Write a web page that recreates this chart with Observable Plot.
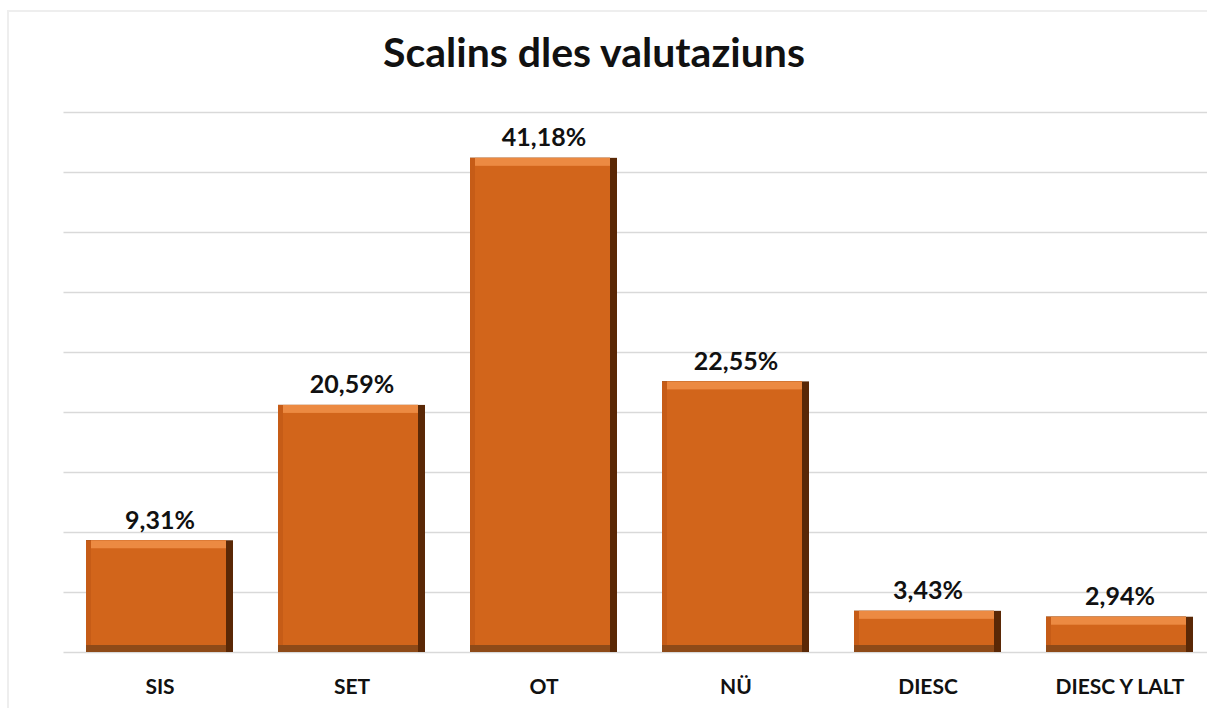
<!DOCTYPE html>
<html>
<head>
<meta charset="utf-8">
<script src="https://cdn.jsdelivr.net/npm/d3@7"></script>
<script src="https://cdn.jsdelivr.net/npm/@observablehq/plot@0.6"></script>
<style>
  html, body { margin: 0; padding: 0; background: #fff; overflow: hidden; width: 1207px; height: 708px; }
  #frame { position: absolute; left: 7px; top: 10px; width: 1210px; height: 710px; border-left: 2px solid #eeeeee; border-top: 2px solid #eeeeee; }
  #title { position: absolute; left: 0; top: 27px; width: 1188px; text-align: center; font-family: Lato, "Open Sans", sans-serif; font-weight: bold; font-size: 41px; color: #111; }
  #chart { position: absolute; left: 0; top: 0; }
  #chart svg { max-width: none !important; }
</style>
</head>
<body>
<div id="frame"></div>
<div id="chart"></div>
<div id="title">Scalins dles valutaziuns</div>
<script>
const categories = ["SIS", "SET", "OT", "NÜ", "DIESC", "DIESC Y LALT"];
const values = [9.31, 20.59, 41.18, 22.55, 3.43, 2.94];
const yTicks = [0, 5, 10, 15, 20, 25, 30, 35, 40, 45];

const data = categories.map((c, i) => ({cat: c, v: values[i]}));
const fmt = v => v.toFixed(2).replace(".", ",") + "%";
const font = "Lato, 'Open Sans', sans-serif";

const bar = (fill, inset) => Plot.barY(data, {x: "cat", y: "v", fill, ...inset});

const chart = Plot.plot({
  width: 1216,
  height: 708,
  marginLeft: 63.5,
  marginRight: 0.5,
  marginTop: 112,
  marginBottom: 56,
  style: {background: "transparent", fontFamily: font, maxWidth: "none"},
  x: {domain: categories, paddingInner: 0.234, paddingOuter: 0.117, axis: null},
  y: {domain: [0, 45], axis: null},
  marks: [
    Plot.ruleY(yTicks, {stroke: "#d9d9d9", strokeWidth: 1.5}),
    bar("#5a2806", {}),
    bar("#8e4a18", {insetRight: 7}),
    bar("#c65c17", {insetRight: 7, insetBottom: 7}),
    bar("#ec8a42", {insetRight: 7, insetBottom: 7, insetLeft: 5}),
    bar("#d2651b", {insetRight: 7, insetBottom: 7, insetLeft: 5, insetTop: 8}),
    Plot.text(data, {x: "cat", y: "v", text: d => fmt(d.v), lineAnchor: "bottom", dy: -12,
      fontSize: 25, fontWeight: "bold", fill: "#111", fontFamily: font}),
    Plot.text(data, {x: "cat", y: () => 0, text: "cat", lineAnchor: "middle", dy: 35,
      fontSize: 21, fontWeight: "bold", fill: "#111", fontFamily: font})
  ]
});
chart.style.maxWidth = "none";
document.getElementById("chart").appendChild(chart);
</script>
</body>
</html>
